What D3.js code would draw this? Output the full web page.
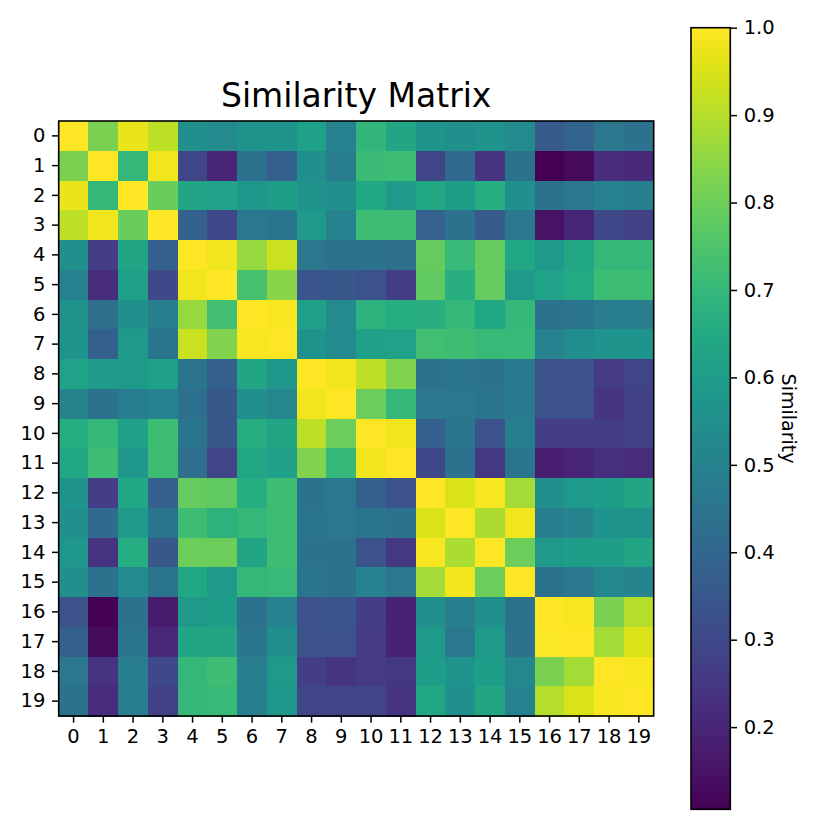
<!DOCTYPE html>
<html>
<head>
<meta charset="utf-8">
<script src="https://cdn.jsdelivr.net/npm/d3@7"></script>
<style>
  body { margin: 0; background: #fff; }
  text { font-family: "DejaVu Sans", sans-serif; fill: #000; }
</style>
</head>
<body>
<script>
// row / column labels
var labels = d3.range(20).map(String);

// similarity values, one row per item
var matrix = [
  [1.00,0.82,0.97,0.91,0.55,0.53,0.56,0.57,0.61,0.50,0.69,0.63,0.57,0.55,0.57,0.53,0.36,0.39,0.46,0.44],
  [0.82,1.00,0.70,0.98,0.29,0.20,0.44,0.375,0.55,0.48,0.715,0.72,0.29,0.41,0.24,0.44,0.106,0.13,0.22,0.21],
  [0.97,0.70,1.00,0.795,0.63,0.62,0.58,0.60,0.57,0.55,0.64,0.59,0.64,0.60,0.66,0.55,0.44,0.46,0.50,0.49],
  [0.91,0.98,0.795,1.00,0.375,0.30,0.46,0.45,0.59,0.50,0.72,0.72,0.38,0.44,0.36,0.46,0.15,0.20,0.30,0.28],
  [0.55,0.27,0.63,0.375,1.00,0.98,0.86,0.93,0.46,0.44,0.44,0.43,0.79,0.71,0.79,0.64,0.59,0.64,0.70,0.70],
  [0.50,0.22,0.61,0.30,0.98,1.00,0.74,0.84,0.34,0.35,0.33,0.27,0.78,0.67,0.79,0.59,0.62,0.65,0.72,0.72],
  [0.56,0.43,0.55,0.49,0.86,0.73,1.00,0.99,0.61,0.53,0.68,0.66,0.67,0.70,0.64,0.70,0.44,0.45,0.48,0.48],
  [0.57,0.375,0.59,0.45,0.93,0.83,0.99,1.00,0.56,0.53,0.61,0.62,0.73,0.72,0.71,0.71,0.50,0.54,0.57,0.57],
  [0.62,0.59,0.59,0.61,0.45,0.375,0.63,0.58,1.00,0.98,0.91,0.83,0.44,0.45,0.44,0.47,0.33,0.33,0.26,0.29],
  [0.51,0.44,0.48,0.50,0.43,0.35,0.55,0.52,0.98,1.00,0.80,0.70,0.46,0.46,0.45,0.47,0.33,0.33,0.24,0.28],
  [0.66,0.70,0.61,0.72,0.45,0.35,0.66,0.63,0.91,0.80,1.00,0.98,0.375,0.45,0.33,0.49,0.27,0.27,0.27,0.28],
  [0.64,0.72,0.58,0.72,0.43,0.29,0.64,0.61,0.83,0.70,0.98,1.00,0.30,0.44,0.25,0.45,0.18,0.20,0.23,0.22],
  [0.57,0.27,0.64,0.375,0.79,0.78,0.66,0.72,0.44,0.46,0.375,0.33,1.00,0.95,0.99,0.88,0.55,0.59,0.60,0.63],
  [0.55,0.41,0.59,0.45,0.72,0.68,0.70,0.72,0.45,0.46,0.45,0.44,0.95,1.00,0.89,0.98,0.48,0.51,0.57,0.56],
  [0.58,0.24,0.66,0.35,0.80,0.80,0.63,0.72,0.44,0.44,0.33,0.25,0.99,0.885,1.00,0.80,0.59,0.60,0.60,0.63],
  [0.55,0.44,0.53,0.45,0.64,0.59,0.70,0.71,0.45,0.44,0.50,0.46,0.88,0.98,0.80,1.00,0.44,0.46,0.52,0.51],
  [0.33,0.106,0.44,0.17,0.59,0.60,0.44,0.50,0.33,0.34,0.27,0.19,0.55,0.49,0.55,0.44,1.00,0.99,0.82,0.90],
  [0.375,0.13,0.45,0.21,0.63,0.63,0.45,0.55,0.33,0.33,0.26,0.19,0.59,0.46,0.59,0.44,0.995,1.00,0.88,0.95],
  [0.46,0.24,0.48,0.30,0.70,0.72,0.48,0.59,0.27,0.24,0.26,0.25,0.60,0.57,0.60,0.52,0.82,0.88,1.00,0.99],
  [0.44,0.22,0.48,0.28,0.70,0.71,0.49,0.58,0.29,0.29,0.29,0.24,0.64,0.55,0.63,0.50,0.90,0.95,0.99,1.00]
];

// colorbar ticks
var colorTicks = [0.2, 0.3, 0.4, 0.5, 0.6, 0.7, 0.8, 0.9, 1.0];

var titleText = "Similarity Matrix",
    cbarLabel = "Similarity";

// Set the dimensions of the figure
var width = 830, height = 830;
var plot = {left: 58.7, top: 121, size: 595};
var cbar = {left: 691, top: 27.7, width: 39.3, height: 781.6};
var tickLen = 6.7, tickPad = 6.7;

var svg = d3.select("body").append("svg")
    .attr("width", width)
    .attr("height", height);

// flatten the matrix into cells
var cells = [];
matrix.forEach(function(row, i) {
  row.forEach(function(v, j) {
    cells.push({row: i, col: j, value: v});
  });
});

var vmin = d3.min(cells, function(d) { return d.value; }),
    vmax = d3.max(cells, function(d) { return d.value; });

var x = d3.scaleBand().domain(labels)
    .range([plot.left, plot.left + plot.size]).padding(0);
var y = d3.scaleBand().domain(labels)
    .range([plot.top, plot.top + plot.size]).padding(0);
var color = d3.scaleSequential(d3.interpolateViridis).domain([vmin, vmax]);

// ****************** heatmap ***************************
svg.append("g")
  .selectAll("rect")
  .data(cells)
  .enter().append("rect")
    .attr("x", function(d) { return x(labels[d.col]); })
    .attr("y", function(d) { return y(labels[d.row]); })
    .attr("width", x.bandwidth() + 0.5)
    .attr("height", y.bandwidth() + 0.5)
    .attr("fill", function(d) { return color(d.value); })
    .attr("shape-rendering", "crispEdges");

// frame round the image
svg.append("rect")
    .attr("x", plot.left)
    .attr("y", plot.top)
    .attr("width", plot.size)
    .attr("height", plot.size)
    .attr("fill", "none")
    .attr("stroke", "#000")
    .attr("stroke-width", 1.6);

// axes
var xAxis = svg.append("g")
    .attr("transform", "translate(0," + (plot.top + plot.size) + ")")
    .call(d3.axisBottom(x).tickSize(tickLen).tickPadding(tickPad));
var yAxis = svg.append("g")
    .attr("transform", "translate(" + plot.left + ",0)")
    .call(d3.axisLeft(y).tickSize(tickLen).tickPadding(tickPad));

[xAxis, yAxis].forEach(function(g) {
  g.select(".domain").remove();
  g.selectAll(".tick line").attr("stroke", "#000").attr("stroke-width", 1.5);
  g.selectAll("text").style("font-size", "19.5px").attr("fill", "#000");
});

// title
svg.append("text")
    .attr("x", plot.left + plot.size / 2)
    .attr("y", 107.3)
    .attr("text-anchor", "middle")
    .style("font-size", "33px")
    .text(titleText);

// ****************** colorbar ***************************
var defs = svg.append("defs");
var grad = defs.append("linearGradient")
    .attr("id", "cbar-grad")
    .attr("x1", 0).attr("y1", 1)
    .attr("x2", 0).attr("y2", 0);
d3.range(0, 1.0001, 0.02).forEach(function(t) {
  grad.append("stop")
      .attr("offset", t)
      .attr("stop-color", d3.interpolateViridis(t));
});

svg.append("rect")
    .attr("x", cbar.left)
    .attr("y", cbar.top)
    .attr("width", cbar.width)
    .attr("height", cbar.height)
    .attr("fill", "url(#cbar-grad)")
    .attr("stroke", "#000")
    .attr("stroke-width", 1.6);

var cy = d3.scaleLinear().domain([vmin, vmax])
    .range([cbar.top + cbar.height, cbar.top]);

var cAxis = svg.append("g")
    .attr("transform", "translate(" + (cbar.left + cbar.width) + ",0)")
    .call(d3.axisRight(cy).tickValues(colorTicks)
      .tickFormat(d3.format(".1f")).tickSize(tickLen).tickPadding(tickPad));
cAxis.select(".domain").remove();
cAxis.selectAll(".tick line").attr("stroke", "#000").attr("stroke-width", 1.5);
cAxis.selectAll("text").style("font-size", "19.5px").attr("fill", "#000");

// colorbar label, reading downward
svg.append("text")
    .attr("transform", "translate(782," + (cbar.top + cbar.height / 2) + ") rotate(90)")
    .attr("text-anchor", "middle")
    .style("font-size", "19px")
    .text(cbarLabel);
</script>
</body>
</html>
